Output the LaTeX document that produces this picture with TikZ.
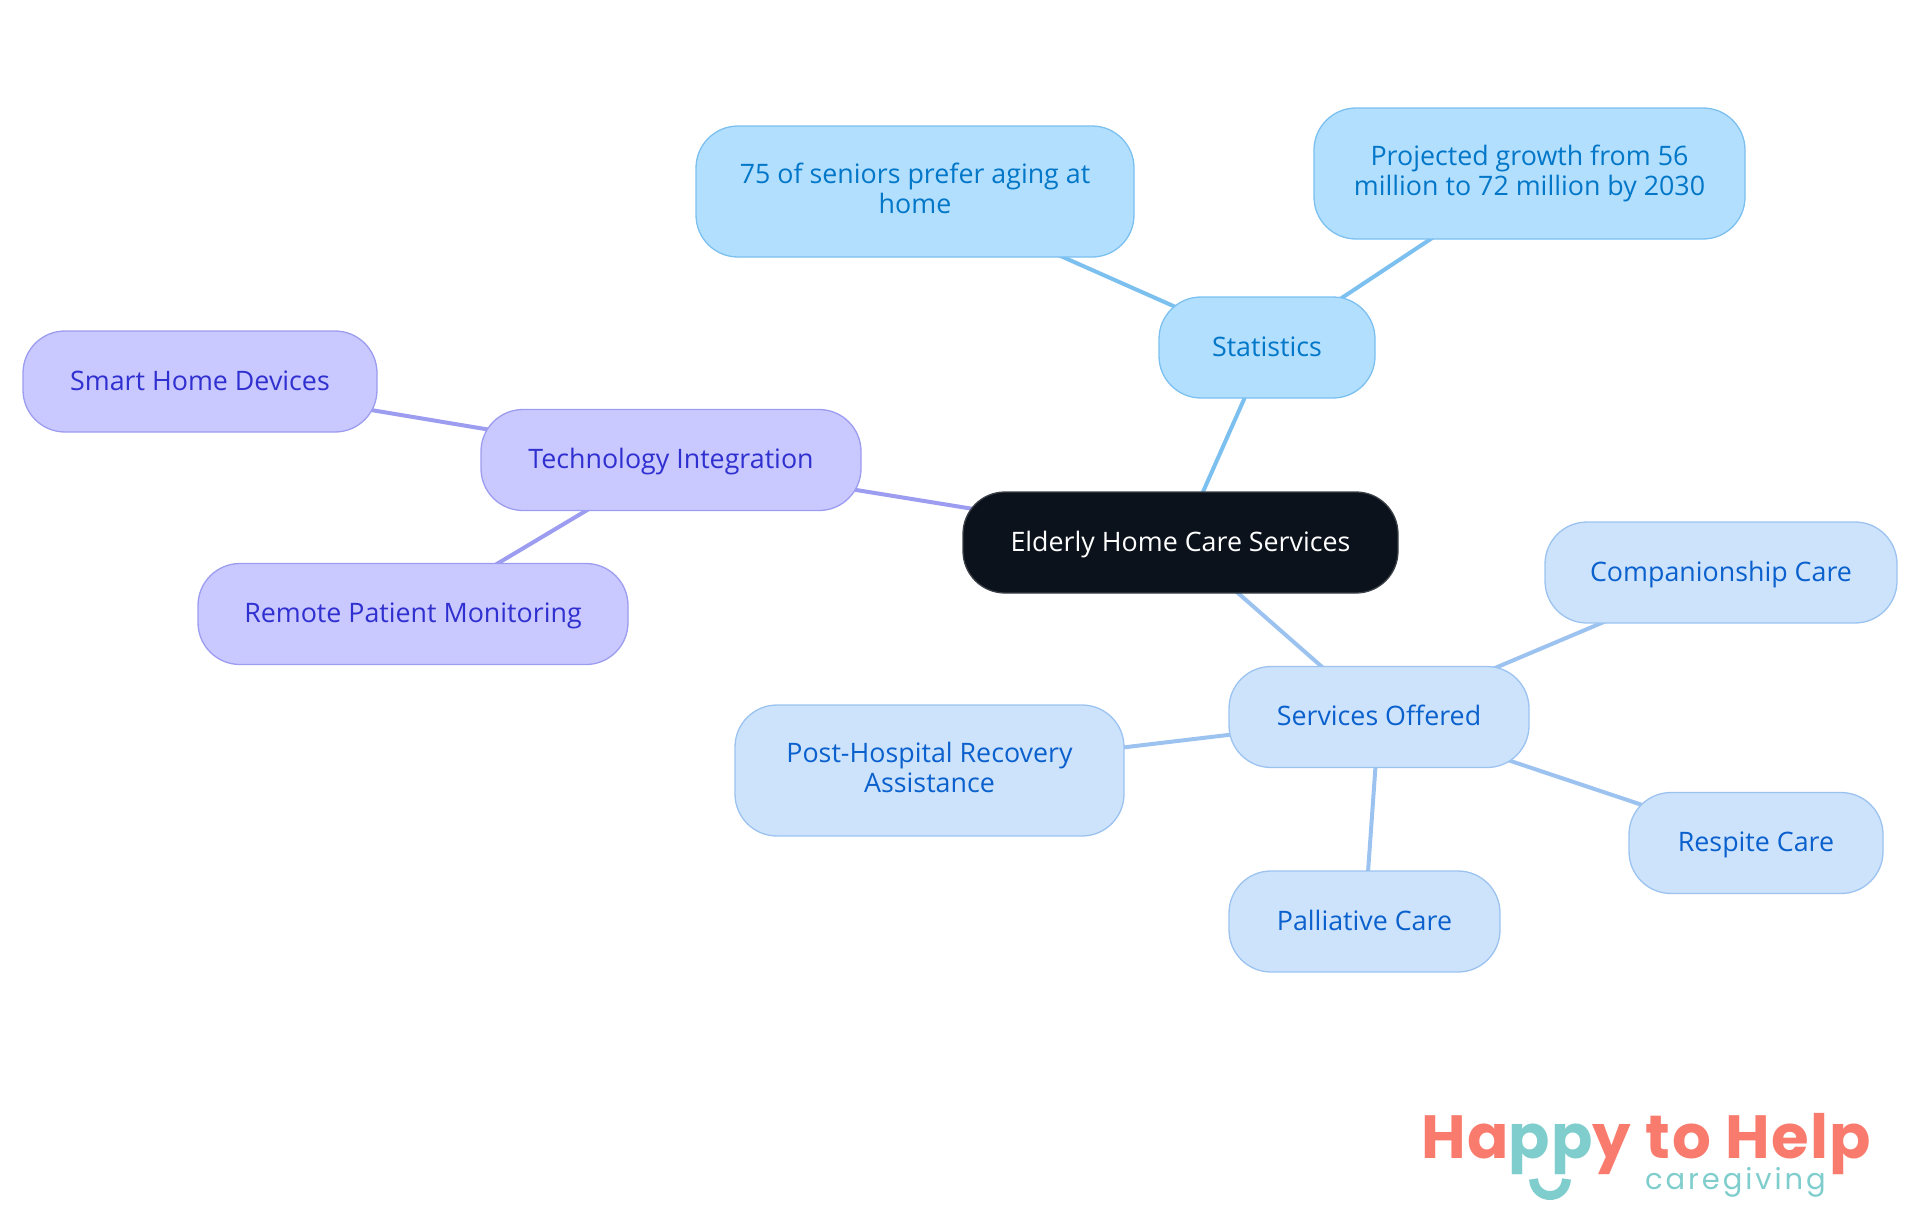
\documentclass[tikz,border=0pt]{standalone}
\usepackage{fontspec}
\setmainfont{Open Sans}
\newfontfamily\logofont{Poppins}
\usetikzlibrary{positioning,backgrounds}
\definecolor{rootFill}{HTML}{0B121B}
\definecolor{rootLine}{HTML}{3C4148}
\definecolor{statFill}{HTML}{B3DFFF}
\definecolor{statLine}{HTML}{7CC0F0}
\definecolor{statInk}{HTML}{0277C8}
\definecolor{servFill}{HTML}{CDE3FC}
\definecolor{servLine}{HTML}{9CC3F0}
\definecolor{servInk}{HTML}{0A60CC}
\definecolor{techFill}{HTML}{C9C9FF}
\definecolor{techLine}{HTML}{9C9CF0}
\definecolor{techInk}{HTML}{3030D0}
\definecolor{logoCoral}{HTML}{F97B6D}
\definecolor{logoTeal}{HTML}{80CDCD}
\newcommand{\bubblestrut}{\rule[-6.5pt]{0pt}{30pt}}

\begin{document}
\begin{tikzpicture}[
      on grid,
      bubble/.style={rounded corners=42pt,align=center,line width=1.3pt,inner sep=0pt,
        font=\fontsize{26.8}{30}\selectfont,execute at begin node=\bubblestrut,execute at end node=\bubblestrut},
      rootbubble/.style={bubble,fill=rootFill,draw=rootLine,text=white},
      statbubble/.style={bubble,fill=statFill,draw=statLine,text=statInk},
      servbubble/.style={bubble,fill=servFill,draw=servLine,text=servInk},
      techbubble/.style={bubble,fill=techFill,draw=techLine,text=techInk},
      statlink/.style={line width=4pt,draw=statLine},
      servlink/.style={line width=4pt,draw=servLine},
      techlink/.style={line width=4pt,draw=techLine}]
    \useasboundingbox (0,0) rectangle (1920pt,-1215pt);
    \node[rootbubble,minimum width=435pt,minimum height=101pt] (root) at (1180.5pt,-542.5pt) {Elderly Home Care Services};
    % first ring
    \node[statbubble,minimum width=216pt,minimum height=101pt,above right=195pt and 86.5pt of root] (stats) {Statistics};
    \node[servbubble,minimum width=300pt,minimum height=101pt,below right=174.5pt and 198.5pt of root] (serv) {Services Offered};
    \node[techbubble,minimum width=380pt,minimum height=101pt,above left=82.5pt and 509.5pt of root] (tech) {Technology Integration};
    % statistics
    \node[statbubble,minimum width=438pt,minimum height=131pt,above left=156pt and 352pt of stats] (prefer) {75 of seniors prefer aging at\\home};
    \node[statbubble,minimum width=431pt,minimum height=131pt,above right=174pt and 262.5pt of stats] (growth) {Projected growth from 56\\million to 72 million by 2030};
    % technology
    \node[techbubble,minimum width=354pt,minimum height=101pt,above left=78.5pt and 471pt of tech] (smart) {Smart Home Devices};
    \node[techbubble,minimum width=430pt,minimum height=101pt,below left=154pt and 258pt of tech] (remote) {Remote Patient Monitoring};
    % services
    \node[servbubble,minimum width=352pt,minimum height=101pt,above right=144.5pt and 342pt of serv] (comp) {Companionship Care};
    \node[servbubble,minimum width=389pt,minimum height=131pt,below left=53.5pt and 449.5pt of serv] (post) {Post-Hospital Recovery\\Assistance};
    \node[servbubble,minimum width=254pt,minimum height=101pt,below right=126pt and 377pt of serv] (respite) {Respite Care};
    \node[servbubble,minimum width=271pt,minimum height=101pt,below left=204.5pt and 14.5pt of serv] (pall) {Palliative Care};
    % links go under the bubbles
    \begin{pgfonlayer}{background}
      \draw[statlink] (root.center) -- (stats.center);
      \draw[statlink] (stats.center) -- (prefer.center);
      \draw[statlink] (stats.center) -- (growth.center);
      \draw[servlink] (root.center) -- (serv.center);
      \draw[servlink] (serv.center) -- (comp.center);
      \draw[servlink] (serv.center) -- (post.center);
      \draw[servlink] (serv.center) -- (respite.center);
      \draw[servlink] (serv.center) -- (pall.center);
      \draw[techlink] (root.center) -- (tech.center);
      \draw[techlink] (tech.center) -- (smart.center);
      \draw[techlink] (tech.center) -- (remote.center);
    \end{pgfonlayer}
    % logo
    \node[inner sep=0pt,anchor=base west,font=\logofont\bfseries\fontsize{61}{61}\selectfont,text=logoCoral] (logo) at (1421pt,-1158pt)
      {\addfontfeature{LetterSpace=2.4}Ha\textcolor{logoTeal}{pp}y to Help};
    \node[inner sep=0pt,anchor=base west,font=\logofont\fontsize{29}{29}\selectfont,text=logoTeal] (care) at (1645pt,-1189pt)
      {\addfontfeature{LetterSpace=10}caregiving};
    \draw[logoTeal,line width=9pt] (1533.5pt,-1179pt) .. controls (1535pt,-1201pt) and (1565pt,-1201pt) .. (1566.5pt,-1179pt);
  \end{tikzpicture}
\end{document}
